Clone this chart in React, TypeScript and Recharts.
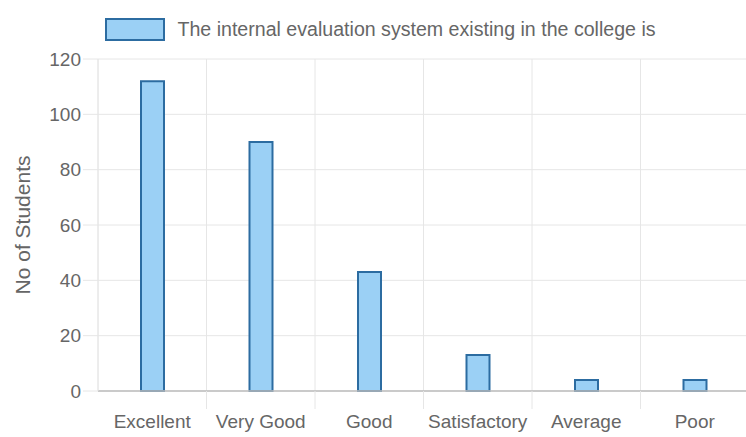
import React from 'react';
import { BarChart, Bar, XAxis, YAxis, CartesianGrid, Legend } from 'recharts';

const categories = ['Excellent', 'Very Good', 'Good', 'Satisfactory', 'Average', 'Poor'];
const students = [112, 90, 43, 13, 4, 4];
const yTicks = [0, 20, 40, 60, 80, 100, 120];
const seriesName = 'The internal evaluation system existing in the college is';

const data = categories.map((name, i) => ({ name, value: students[i] }));

const FONT = '"Liberation Sans", Arial, sans-serif';
const TEXT = '#666';
const GRID = '#e6e6e6';

const CHART_W = 749;
const CHART_H = 437;
const MARGIN = { top: 33, right: 0, bottom: 0, left: 0 };
const Y_AXIS_W = 98;
const X_AXIS_H = 46;
const STEP = (CHART_W - MARGIN.left - Y_AXIS_W - MARGIN.right) / categories.length;

const XTick = (props: any) => {
  const { x, y, payload, index } = props;
  return (
    <g>
      {index > 0 && (
        <line x1={x - STEP / 2} x2={x - STEP / 2} y1={y} y2={y + 18} stroke={GRID} strokeWidth={1} />
      )}
      <text x={x} y={y + 37} textAnchor="middle" fill={TEXT} fontSize={19} fontFamily={FONT}>
        {payload.value}
      </text>
    </g>
  );
};

const YLabel = (props: any) => {
  const { viewBox } = props;
  const cx = viewBox.x + 22;
  const cy = viewBox.y + viewBox.height / 2;
  return (
    <text
      x={cx}
      y={cy}
      transform={`rotate(-90, ${cx}, ${cy})`}
      textAnchor="middle"
      dominantBaseline="central"
      fill={TEXT}
      fontSize={21}
      fontFamily={FONT}
    >
      No of Students
    </text>
  );
};

const LegendContent = () => (
  <div style={{ display: 'flex', justifyContent: 'center', alignItems: 'center', height: 26, paddingLeft: 12 }}>
    <span
      style={{
        display: 'inline-block',
        width: 56,
        height: 19,
        background: '#9bd0f5',
        border: '2px solid #2c6ca1',
        marginRight: 12,
      }}
    />
    <span style={{ fontFamily: FONT, fontSize: 19.6, color: TEXT }}>{seriesName}</span>
  </div>
);

export default function App() {
  return (
    <div style={{ position: 'absolute', left: 0, top: 0, width: 746, height: 437, overflow: 'hidden', background: '#fff' }}>
      <BarChart width={CHART_W} height={CHART_H} data={data} margin={MARGIN} barCategoryGap="0%">
        <CartesianGrid
          stroke={GRID}
          horizontalValues={yTicks}
          verticalCoordinatesGenerator={({ offset }: any) =>
            categories.map((_, i) => offset.left + i * (offset.width / categories.length))
          }
        />
        <Legend
          verticalAlign="top"
          align="center"
          wrapperStyle={{ top: 16, left: 0, width: CHART_W }}
          content={LegendContent}
        />
        <XAxis
          dataKey="name"
          height={X_AXIS_H}
          axisLine={{ stroke: '#bdbdbd', strokeWidth: 1.5 }}
          tickLine={false}
          tickSize={0}
          tickMargin={0}
          interval={0}
          tick={XTick}
        />
        <YAxis
          width={Y_AXIS_W}
          domain={[0, 120]}
          ticks={yTicks}
          interval={0}
          axisLine={{ stroke: GRID }}
          tickLine={{ stroke: GRID }}
          tickSize={15}
          tickMargin={2}
          tick={{ fill: TEXT, fontSize: 19, fontFamily: FONT }}
          label={<YLabel />}
        />
        <Bar
          dataKey="value"
          name={seriesName}
          fill="#9bd0f5"
          stroke="#2c6ca1"
          strokeWidth={2}
          barSize={23}
          isAnimationActive={false}
        />
      </BarChart>
    </div>
  );
}
